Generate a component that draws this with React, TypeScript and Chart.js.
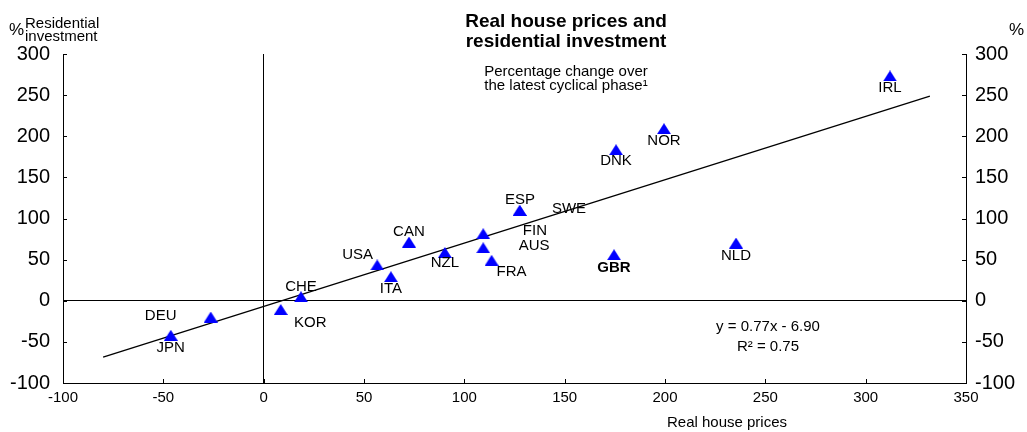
import React, { useEffect, useRef } from 'react';
import { Chart, registerables } from 'chart.js';

Chart.register(...registerables);

// ---- Data ----
const countries = ['IRL', 'NOR', 'DNK', 'GBR', 'NLD', 'ESP', 'SWE', 'FIN', 'AUS', 'FRA', 'NZL', 'CAN', 'USA', 'ITA', 'CHE', 'KOR', 'DEU', 'JPN'];
const housePrices = [312.1, 199.5, 175.6, 174.6, 235.4, 127.7, 127.5, 109.4, 109.4, 113.6, 90.3, 72.4, 56.6, 63.4, 18.6, 8.5, -26.4, -46.3];
const residentialInvestment = [273.3, 209.2, 183.6, 56.0, 70.2, 109.7, 109.5, 81.5, 64.4, 49.2, 58.7, 71.4, 43.5, 29.2, 4.9, -10.6, -19.8, -42.0];
const boldCountries = ['GBR'];

const fitSlope = 0.77;
const fitIntercept = -6.9;
const fitXRange = [-80, 332];

const xMin = -100;
const xMax = 350;
const xStep = 50;
const yMin = -100;
const yMax = 300;
const yStep = 50;

const titleLines = ['Real house prices and', 'residential investment'];
const subtitleLines = ['Percentage change over', 'the latest cyclical phase\u00b9'];
const xAxisTitle = 'Real house prices';
const yAxisTitleLines = ['Residential', 'investment'];
const equationLines = ['y = 0.77x - 6.90', 'R\u00b2 = 0.75'];

// label placement offsets (pixels) relative to each marker
const labelOffsets: Record<string, [number, number]> = {
  IRL: [0, 12], NOR: [0, 12.5], DNK: [0, 11.5], GBR: [0, 12.8], NLD: [0, 12.5],
  ESP: [0, -10.5], SWE: [49.5, -1.7], FIN: [51.7, -2.4], AUS: [51, -1.6], FRA: [20, 11.5],
  NZL: [0, 10.5], CAN: [0, -10], USA: [-19.6, -10.3], ITA: [0, 12], CHE: [0, -9.7],
  KOR: [29.5, 13.3], DEU: [-50, -1.5], JPN: [0, 12.5],
};

const FONT = "'Liberation Sans', Arial, Helvetica, sans-serif";

function makeTriangle(): HTMLCanvasElement {
  const c = document.createElement('canvas');
  c.width = 14;
  c.height = 11;
  const ctx = c.getContext('2d')!;
  ctx.fillStyle = '#0000FF';
  ctx.beginPath();
  ctx.moveTo(0, 11);
  ctx.lineTo(7, 0);
  ctx.lineTo(14, 11);
  ctx.closePath();
  ctx.fill();
  return c;
}

const decorPlugin = {
  id: 'decor',
  afterDatasetsDraw(chart: any) {
    const ctx = chart.ctx as CanvasRenderingContext2D;
    const xs = chart.scales.x;
    const ys = chart.scales.y;
    ctx.save();
    ctx.fillStyle = '#000';
    ctx.textAlign = 'center';
    ctx.textBaseline = 'middle';
    countries.forEach((c, i) => {
      const px = xs.getPixelForValue(housePrices[i]);
      const py = ys.getPixelForValue(residentialInvestment[i]);
      const off = labelOffsets[c] || [0, 12];
      ctx.font = (boldCountries.includes(c) ? 'bold ' : '') + '15px ' + FONT;
      ctx.fillText(c, px + off[0], py + off[1]);
    });
    ctx.restore();
  },
  afterDraw(chart: any) {
    const ctx = chart.ctx as CanvasRenderingContext2D;
    const area = chart.chartArea;
    const xs = chart.scales.x;
    const ys = chart.scales.y;
    ctx.save();
    // inward tick marks
    ctx.strokeStyle = '#000';
    ctx.lineWidth = 1;
    ctx.beginPath();
    for (let v = yMin; v <= yMax; v += yStep) {
      const y = Math.round(ys.getPixelForValue(v)) + 0.5;
      ctx.moveTo(area.left, y);
      ctx.lineTo(area.left + 4, y);
      ctx.moveTo(area.right, y);
      ctx.lineTo(area.right - 4, y);
    }
    for (let v = xMin; v <= xMax; v += xStep) {
      const x = Math.round(xs.getPixelForValue(v)) + 0.5;
      ctx.moveTo(x, area.bottom);
      ctx.lineTo(x, area.bottom - 4);
    }
    ctx.stroke();

    ctx.fillStyle = '#000';
    ctx.textBaseline = 'alphabetic';
    // left axis unit + title
    ctx.textAlign = 'left';
    ctx.font = '17px ' + FONT;
    ctx.fillText('%', 9, 35);
    ctx.font = '15px ' + FONT;
    ctx.fillText(yAxisTitleLines[0], 25, 28);
    ctx.fillText(yAxisTitleLines[1], 25, 41);
    // right axis unit
    ctx.font = '17px ' + FONT;
    ctx.fillText('%', 1009, 35);

    // title
    ctx.textAlign = 'center';
    ctx.font = 'bold 19px ' + FONT;
    ctx.fillText(titleLines[0], 566, 27);
    ctx.fillText(titleLines[1], 566, 47);
    ctx.font = '15px ' + FONT;
    ctx.fillText(subtitleLines[0], 566, 76);
    ctx.fillText(subtitleLines[1], 566, 90);

    // x-axis title
    ctx.fillText(xAxisTitle, 727, 427);

    // equation
    ctx.fillText(equationLines[0], 768, 331);
    ctx.fillText(equationLines[1], 768, 351);
    ctx.restore();
  },
};

export default function App() {
  const ref = useRef<HTMLCanvasElement>(null);

  useEffect(() => {
    if (!ref.current) return;
    const tri = makeTriangle();
    const points = countries.map((_, i) => ({ x: housePrices[i], y: residentialInvestment[i] }));
    const fitLine = fitXRange.map((x) => ({ x, y: fitSlope * x + fitIntercept }));

    const zeroColor = (ctx: any) => (ctx.tick && ctx.tick.value === 0 ? '#000' : 'rgba(0,0,0,0)');

    const chart = new Chart(ref.current, {
      type: 'scatter',
      data: {
        datasets: [
          {
            type: 'line',
            data: fitLine,
            borderColor: '#000',
            borderWidth: 1.3,
            pointRadius: 0,
            fill: false,
            order: 2,
          } as any,
          {
            data: points,
            pointStyle: tri as any,
            pointRadius: 7,
            backgroundColor: '#0000FF',
            borderColor: '#0000FF',
            order: 1,
          },
        ],
      },
      options: {
        responsive: false,
        animation: false,
        devicePixelRatio: 1,
        layout: { padding: { top: 54, left: 0, right: 0, bottom: 0 } },
        plugins: {
          legend: { display: false },
          tooltip: { enabled: false },
          title: { display: false },
        },
        scales: {
          x: {
            type: 'linear',
            min: xMin,
            max: xMax,
            ticks: {
              stepSize: xStep,
              color: '#000',
              font: { family: FONT, size: 15 },
              padding: 6,
              maxRotation: 0,
            },
            grid: { display: true, drawTicks: false, color: zeroColor, lineWidth: 1 },
            border: { display: true, color: '#000', width: 1 },
            afterFit: (s: any) => { s.height = 49; },
          },
          y: {
            type: 'linear',
            position: 'left',
            min: yMin,
            max: yMax,
            ticks: {
              stepSize: yStep,
              color: '#000',
              font: { family: FONT, size: 20 },
              padding: 13,
            },
            grid: { display: true, drawTicks: false, color: zeroColor, lineWidth: 1 },
            border: { display: true, color: '#000', width: 1 },
            afterFit: (s: any) => { s.width = 63; },
          },
          y2: {
            type: 'linear',
            position: 'right',
            min: yMin,
            max: yMax,
            ticks: {
              stepSize: yStep,
              color: '#000',
              font: { family: FONT, size: 20 },
              padding: 9,
            },
            grid: { display: false, drawTicks: false },
            border: { display: true, color: '#000', width: 1 },
            afterFit: (s: any) => { s.width = 61; },
          },
        },
      },
      plugins: [decorPlugin],
    } as any);
    return () => chart.destroy();
  }, []);

  return (
    <div style={{ position: 'absolute', left: 0, top: 0, width: 1027, height: 432, background: '#fff' }}>
      <canvas ref={ref} width={1027} height={432} style={{ display: 'block' }} />
    </div>
  );
}
